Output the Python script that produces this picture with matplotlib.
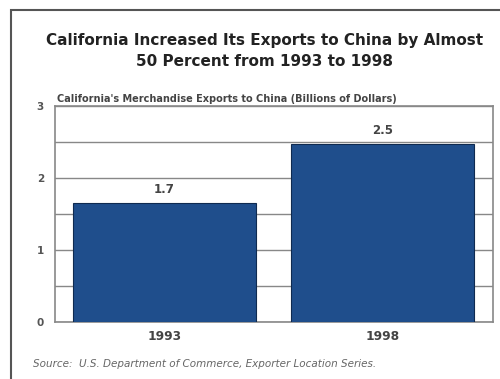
import matplotlib
matplotlib.use("Agg")
import matplotlib.pyplot as plt
from matplotlib.patches import Rectangle

years = ["1993", "1998"]
values = [1.65, 2.47]
value_labels = ["1.7", "2.5"]
yticks = [0, 1, 2, 3]

plt.rcParams['font.family'] = ['DejaVu Sans']

fig = plt.figure(figsize=(5, 3.79), dpi=100)
fig.patch.set_facecolor('white')

# outer frame
fig.add_artist(Rectangle((11/500, -0.01), 1.0, 1 - 10/379 + 0.01, transform=fig.transFigure,
                         fill=False, edgecolor='#555555', linewidth=1.5))

ax = fig.add_axes([55/500, 1 - 322/379, (493 - 55)/500, (322 - 106)/379])
x = [0, 1]
ax.bar(x, values, width=0.838, color='#1f4e8c', edgecolor='#0f2a50', linewidth=0.8, zorder=3)
ax.set_xlim(-0.501, 1.504)
ax.set_ylim(0, 3)
ax.set_yticks(yticks)
ax.set_yticks([0.5, 1.5, 2.5], minor=True)
ax.set_yticklabels([str(t) for t in yticks], fontsize=7.5, fontweight='bold', color='#555555')
ax.grid(axis='y', which='both', color='#888888', linewidth=1.0, zorder=0)
ax.tick_params(axis='y', which='both', length=0, pad=8)
ax.set_xticks(x)
ax.set_xticklabels(years, fontsize=8.8, fontweight='bold', color='#444444')
ax.tick_params(axis='x', length=0, pad=6)
for s in ax.spines.values():
    s.set_color('#888888')
    s.set_linewidth(1.2)
for xi, v, lab in zip(x, values, value_labels):
    ax.text(xi, v + 0.1, lab, ha='center', va='bottom', fontsize=8.5, fontweight='bold', color='#444444')

fig.text(265/500, 1 - 40/379, "California Increased Its Exports to China by Almost", ha='center', va='center',
         fontsize=11, fontweight='bold', color='#222222')
fig.text(265/500, 1 - 62/379, "50 Percent from 1993 to 1998", ha='center', va='center',
         fontsize=11, fontweight='bold', color='#222222')
fig.text(57/500, 1 - 99/379, "California's Merchandise Exports to China (Billions of Dollars)", ha='left', va='center',
         fontsize=7, fontweight='bold', color='#444444')
fig.text(33/500, 1 - 364/379, "Source:  U.S. Department of Commerce, Exporter Location Series.", ha='left', va='center',
         fontsize=7.5, style='italic', color='#666666')

fig.savefig("out.png", dpi=100)
